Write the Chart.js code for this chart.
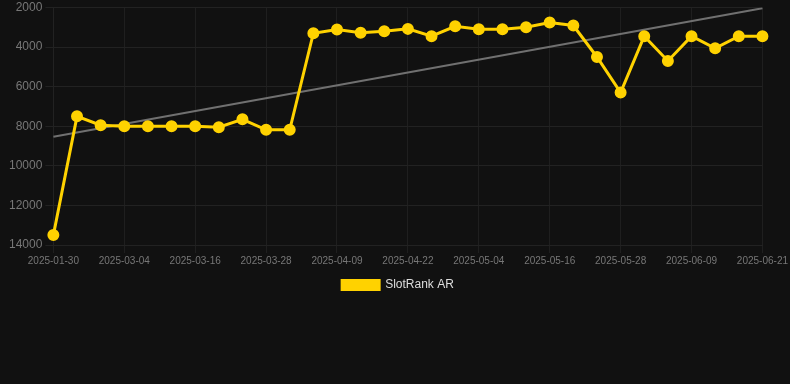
<!DOCTYPE html>
<html>
<head>
<meta charset="utf-8">
<script src="https://cdn.jsdelivr.net/npm/chart.js@4"></script>
<style>
  html, body { margin: 0; padding: 0; background: #111111; }
  #wrap { width: 790px; height: 301px; }
</style>
</head>
<body>
<div id="wrap"><canvas id="rankChart"></canvas></div>
<script>
(function(){
    'use strict';

    const dates = ['2025-01-30', '2025-02-11', '2025-02-23', '2025-03-04', '2025-03-08', '2025-03-12',
      '2025-03-16', '2025-03-20', '2025-03-24', '2025-03-28', '2025-04-01', '2025-04-05',
      '2025-04-09', '2025-04-13', '2025-04-17', '2025-04-22', '2025-04-26', '2025-04-30',
      '2025-05-04', '2025-05-08', '2025-05-12', '2025-05-16', '2025-05-20', '2025-05-24',
      '2025-05-28', '2025-06-01', '2025-06-05', '2025-06-09', '2025-06-13', '2025-06-17', '2025-06-21'];
    const ranks = [13500, 7500, 7950, 8000, 8000, 8000, 8000, 8050, 7650, 8180, 8180, 3300,
      3110, 3270, 3200, 3080, 3450, 2950, 3100, 3100, 3000, 2760, 2910, 4500,
      6300, 3450, 4700, 3450, 4060, 3450, 3450];
    const trendEnds = [8530, 2035];
    const yTicks = [2000, 4000, 6000, 8000, 10000, 12000, 14000];

    const trend = dates.map((d, i) => i === 0 ? trendEnds[0] : (i === dates.length - 1 ? trendEnds[1] : null));
    const shown = (i) => i % 3 === 0;

    const ctx = document.getElementById('rankChart');

    new Chart(ctx, {
      type: 'line',
      data: {
        labels: dates,
        datasets: [{
          label: 'SlotRank AR',
          data: ranks,
          borderColor: '#FFD200',
          backgroundColor: '#FFD200',
          borderWidth: 3,
          pointRadius: 4.5,
          pointHoverRadius: 4.5,
          tension: 0
        }, {
          label: 'trend',
          data: trend,
          spanGaps: true,
          borderColor: '#707070',
          borderWidth: 2,
          pointRadius: 0,
          tension: 0
        }]
      },
      options: {
        responsive: true,
        maintainAspectRatio: false,
        animation: false,
        layout: { padding: { left: 6, right: 0, top: 0, bottom: 0 } },
        plugins: {
          tooltip: { enabled: false },
          legend: {
            position: 'bottom',
            labels: {
              filter: (item) => item.datasetIndex === 0,
              color: '#dddddd',
              boxWidth: 37,
              boxHeight: 9,
              font: { family: 'Arial', size: 12 }
            }
          }
        },
        scales: {
          x: {
            grid: {
              color: (c) => shown(c.index) ? '#1f1f1f' : 'rgba(0,0,0,0)',
              tickColor: (c) => shown(c.index) ? '#1f1f1f' : 'rgba(0,0,0,0)'
            },
            border: { color: '#222222' },
            ticks: {
              autoSkip: false,
              maxRotation: 0,
              padding: 2,
              color: '#777777',
              font: { family: 'Arial', size: 10 },
              callback: function(v, i) { return shown(i) ? dates[i] : ''; }
            }
          },
          y: {
            reverse: true,
            min: yTicks[0],
            max: yTicks[yTicks.length - 1],
            grid: { color: '#222222' },
            border: { color: '#222222' },
            ticks: {
              stepSize: 2000,
              color: '#777777',
              font: { family: 'Arial', size: 12, lineHeight: 0.7 },
              callback: (v) => String(v)
            }
          }
        }
      }
    });
})();
</script>
</body>
</html>
